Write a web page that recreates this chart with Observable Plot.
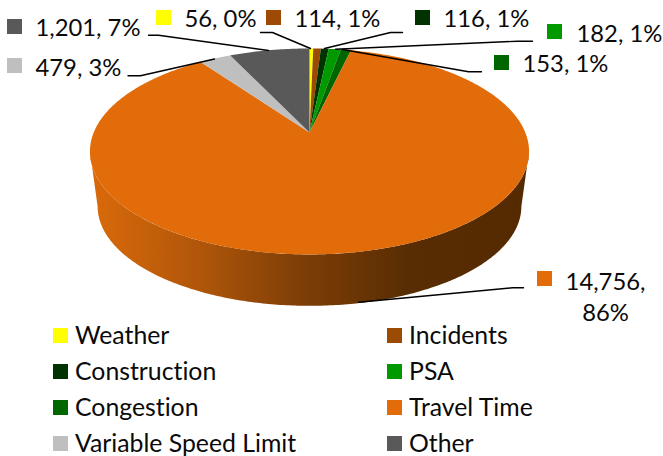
<!DOCTYPE html>
<html>
<head>
<meta charset="utf-8">
<script src="https://cdn.jsdelivr.net/npm/d3@7"></script>
<script src="https://cdn.jsdelivr.net/npm/@observablehq/plot@0.6"></script>
<style>
html,body{margin:0;padding:0;background:#fff;}
svg{display:block;font-variant-ligatures:none;}
svg text{font-variant-ligatures:none;font-feature-settings:"liga" 0;}
</style>
</head>
<body>
<div id="chart"></div>
<script>
// Data
const categories = ["Weather","Incidents","Construction","PSA","Congestion","Travel Time","Variable Speed Limit","Other"];
const values = [56,114,116,182,153,14756,479,1201];
const dataLabels = ["56, 0%","114, 1%","116, 1%","182, 1%","153, 1%","14,756,\n86%","479, 3%","1,201, 7%"];
const colors = ["#FFFF00","#9C4A04","#003300","#009900","#006600","#E36C0A","#BFBFBF","#595959"];

// Layout (page units)
const labelSwatchX = [156,266,415,547,494,537,7,7];
const labelSwatchY = [10,10,10,24,55,271,58,19];
const labelTextX = [184,294,443,576,522,605,35,35];
const labelTextY = [26,26,26,41,71,320,75,35];
const leaderX = [[260,272,310],null,[402,390,324],[532,517,335],[481,468,342],[523,512,358],[127.5,140,214],[148,158,268]];
const leaderY = [[32,32,48],null,[32,32,48],[40.7,40.7,48.7],[71.3,71.3,49],[287.3,287.3,301.7],[75.3,75.3,58.5],[34.7,34.7,50]];
const legendOrder = [0,1,2,3,4,5,6,7];
const legendColX = [53,387];
const legendRowY = [328,364,400,436];
const swatch = 15;

// Perspective pie disc
const cx = 309, apexY = 132, k = 0.184, sx = 215.8, sy = 99.5;
const wallDy = 55, wallScale = 0.965;
const project = (a, scale = 1, dy = 0) => {
  const X = Math.sin(a), Y = Math.cos(a), w = 1 + k * Y;
  return {x: cx + scale * sx * X / w, y: apexY + dy + (1 - scale) * 19 - scale * sy * Y / w};
};
const total = d3.sum(values);
const slices = [];
let acc = 0;
values.forEach((v, i) => {
  const a0 = acc / total * 2 * Math.PI;
  acc += v;
  const a1 = acc / total * 2 * Math.PI;
  const n = Math.max(2, Math.ceil((a1 - a0) / 0.01));
  const pts = [{x: cx, y: apexY, i}];
  for (let j = 0; j <= n; j++) pts.push({...project(a0 + (a1 - a0) * j / n), i});
  slices.push(...pts);
});

// Front wall between the two visible rims
const a0w = Math.PI / 2 + Math.asin(k), a1w = 3 * Math.PI / 2 - Math.asin(k);
const wall = [];
const steps = 240;
for (let j = 0; j <= steps; j++) wall.push(project(a0w + (a1w - a0w) * j / steps));
for (let j = steps; j >= 0; j--) wall.push(project(a0w + (a1w - a0w) * j / steps, wallScale, wallDy));

const swatches = [];
const texts = [];
values.forEach((v, i) => {
  swatches.push({x: labelSwatchX[i], y: labelSwatchY[i], c: colors[i]});
  texts.push({x: labelTextX[i], y: labelTextY[i], t: dataLabels[i], a: i === 5 ? "middle" : "start"});
});
const legendText = [];
legendOrder.forEach((c, idx) => {
  const x = legendColX[idx % 2], y = legendRowY[Math.floor(idx / 2)];
  swatches.push({x, y, c: colors[c]});
  legendText.push({x: x + 21.5, y: y + 15, t: categories[c]});
});
const leaders = [];
leaderX.forEach((xs, i) => {
  if (xs) xs.forEach((x, j) => leaders.push({x, y: leaderY[i][j], i}));
});

const fontFamily = "Lato, Carlito, sans-serif";
const plot = Plot.plot({
  width: 663, height: 456,
  margin: 0,
  x: {domain: [0, 663], range: [0, 663], axis: null},
  y: {domain: [0, 456], range: [0, 456], axis: null},
  style: {background: "#fff", fontFamily},
  marks: [
    Plot.line(wall, {x: "x", y: "y", fill: "url(#wallGrad)", stroke: "none", curve: "linear"}),
    Plot.line(slices, {x: "x", y: "y", z: "i", fill: d => colors[d.i], stroke: "none", curve: "linear"}),
    Plot.line(leaders, {x: "x", y: "y", z: "i", stroke: "#000", strokeWidth: 1.4, curve: "linear"}),
    Plot.rect(swatches, {x1: "x", x2: d => d.x + swatch, y1: "y", y2: d => d.y + swatch, fill: d => d.c, inset: 0}),
    Plot.text(texts.filter(d => d.a === "start"), {x: "x", y: "y", text: "t", textAnchor: "start", lineAnchor: "bottom", fontSize: 23.8, fill: "#0a0a0a"}),
    Plot.text(texts.filter(d => d.a === "middle"), {x: "x", y: "y", text: "t", textAnchor: "middle", lineAnchor: "bottom", lineHeight: 1.3, fontSize: 23.8, fill: "#0a0a0a"}),
    Plot.text(legendText, {x: "x", y: "y", text: "t", textAnchor: "start", lineAnchor: "bottom", fontSize: 24.8, fill: "#0a0a0a"})
  ]
});
const defs = d3.select(plot).insert("defs", ":first-child");
const grad = defs.append("linearGradient").attr("id", "wallGrad").attr("x1", "0").attr("x2", "1").attr("y1", "0").attr("y2", "0");
[[0,"#DA6A0A"],[0.25,"#B0560A"],[0.48,"#7E3E06"],[0.72,"#592D03"],[1,"#552A00"]].forEach(([o, c]) => grad.append("stop").attr("offset", o).attr("stop-color", c));
document.getElementById("chart").append(plot);
</script>
</body>
</html>
